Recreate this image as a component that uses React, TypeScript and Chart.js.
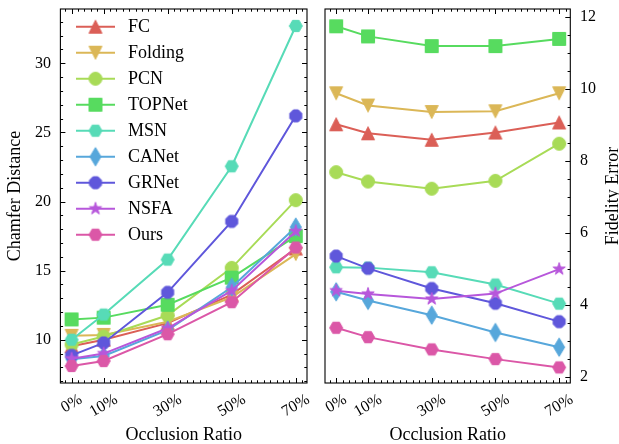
import React, { useEffect, useRef } from "react";
import { Chart, registerables } from "chart.js";

Chart.register(...registerables);

// ---------- data ----------
const occlusion = [0, 10, 30, 50, 70];
const occlusionLabels = ["0%", "10%", "30%", "50%", "70%"];
const methods = ["FC", "Folding", "PCN", "TOPNet", "MSN", "CANet", "GRNet", "NSFA", "Ours"];
const methodColors = ["#db5f57", "#dbb757", "#a8db57", "#57db5f", "#57dbb7", "#57a7db", "#5f57db", "#b757db", "#db57a7"];
const methodMarkers = ["^", "v", "o", "s", "H", "d", "8", "*", "H"];

// Chamfer Distance (left panel)
const cdFC = [9.53, 10.0, 11.2, 13.26, 16.6];
const cdFolding = [10.28, 10.35, 11.3, 13.07, 16.2];
const cdPCN = [9.65, 10.23, 11.77, 15.2, 20.1];
const cdTOPNet = [11.47, 11.6, 12.53, 14.49, 17.5];
const cdMSN = [10.0, 11.82, 15.8, 22.55, 32.7];
const cdCANet = [8.58, 8.82, 10.7, 13.8, 18.15];
const cdGRNet = [8.87, 9.77, 13.43, 18.56, 26.2];
const cdNSFA = [8.63, 9.0, 10.83, 13.55, 17.85];
const cdOurs = [8.1, 8.46, 10.4, 12.72, 16.67];

// Fidelity Error (right panel)
const feFC = [9.01, 8.76, 8.58, 8.78, 9.06];
const feFolding = [9.87, 9.53, 9.35, 9.37, 9.87];
const fePCN = [7.68, 7.42, 7.22, 7.44, 8.47];
const feTOPNet = [11.73, 11.45, 11.18, 11.18, 11.38];
const feMSN = [5.04, 5.03, 4.9, 4.56, 4.03];
const feCANet = [4.36, 4.12, 3.71, 3.23, 2.82];
const feGRNet = [5.35, 5.01, 4.45, 4.04, 3.53];
const feNSFA = [4.39, 4.3, 4.16, 4.31, 4.99];
const feOurs = [3.36, 3.1, 2.76, 2.49, 2.26];

const cdSeries = [cdFC, cdFolding, cdPCN, cdTOPNet, cdMSN, cdCANet, cdGRNet, cdNSFA, cdOurs];
const feSeries = [feFC, feFolding, fePCN, feTOPNet, feMSN, feCANet, feGRNet, feNSFA, feOurs];

const cdTicks = [10, 15, 20, 25, 30];
const feTicks = [2, 4, 6, 8, 10, 12];

// ---------- styling ----------
const FONT = '"Liberation Serif", "Times New Roman", serif';
const MS = 13;

function makeMarker(kind: string, color: string) {
  const size = 26;
  const c = document.createElement("canvas");
  c.width = size;
  c.height = size;
  const ctx = c.getContext("2d")!;
  const cx = size / 2;
  const cy = size / 2;
  const r = MS / 2;
  ctx.beginPath();
  const poly = (n: number, start: number, rad: number) => {
    for (let k = 0; k < n; k++) {
      const a = start + (k * 2 * Math.PI) / n;
      const px = cx + rad * Math.cos(a);
      const py = cy + rad * Math.sin(a);
      if (k === 0) ctx.moveTo(px, py);
      else ctx.lineTo(px, py);
    }
  };
  if (kind === "^") {
    ctx.moveTo(cx, cy - r);
    ctx.lineTo(cx + r, cy + r);
    ctx.lineTo(cx - r, cy + r);
  } else if (kind === "v") {
    ctx.moveTo(cx, cy + r);
    ctx.lineTo(cx + r, cy - r);
    ctx.lineTo(cx - r, cy - r);
  } else if (kind === "o") {
    ctx.arc(cx, cy, r, 0, Math.PI * 2);
  } else if (kind === "s") {
    ctx.rect(cx - r, cy - r, 2 * r, 2 * r);
  } else if (kind === "H") {
    poly(6, 0, r);
  } else if (kind === "8") {
    poly(8, Math.PI / 8, r);
  } else if (kind === "d") {
    const h = r * Math.SQRT2;
    const w = h * 0.6;
    ctx.moveTo(cx, cy - h);
    ctx.lineTo(cx + w, cy);
    ctx.lineTo(cx, cy + h);
    ctx.lineTo(cx - w, cy);
  } else if (kind === "*") {
    const inner = r * 0.381966;
    for (let k = 0; k < 10; k++) {
      const a = -Math.PI / 2 + (k * Math.PI) / 5;
      const rad = k % 2 === 0 ? r : inner;
      const px = cx + rad * Math.cos(a);
      const py = cy + rad * Math.sin(a);
      if (k === 0) ctx.moveTo(px, py);
      else ctx.lineTo(px, py);
    }
  }
  ctx.closePath();
  ctx.fillStyle = color;
  ctx.fill();
  ctx.lineWidth = 1;
  ctx.lineJoin = "round";
  ctx.strokeStyle = color;
  ctx.stroke();
  return c;
}

type PanelCfg = {
  id: string;
  offsetX: number;
  yTicks: number[];
  yMinorStep: number;
  yMin: number;
  yMax: number;
  leftYTicks: boolean;
  rightYTicks: boolean;
  yLabelSide: "left" | "right";
  yLabelX: number;
  yTitle: string;
  yTitleX: number;
  legend: boolean;
};

function decorPlugin(cfg: PanelCfg, markers: HTMLCanvasElement[]) {
  return {
    id: cfg.id,
    afterDraw(chart: any) {
      const ctx: CanvasRenderingContext2D = chart.ctx;
      const { left, right, top, bottom } = chart.chartArea;
      const xs = chart.scales.x;
      const ys = chart.scales.y;
      const ox = cfg.offsetX;
      ctx.save();
      ctx.strokeStyle = "#000";
      ctx.lineWidth = 1;
      const seg = (x1: number, y1: number, x2: number, y2: number) => {
        ctx.beginPath();
        ctx.moveTo(x1, y1);
        ctx.lineTo(x2, y2);
        ctx.stroke();
      };
      const MAJ = 5;
      const MIN = 2.7;
      // x ticks
      for (const v of occlusion) {
        const px = Math.round(xs.getPixelForValue(v)) + 0.5;
        seg(px, bottom, px, bottom - MAJ);
        seg(px, top, px, top + MAJ);
      }
      for (let v = -2; v <= 72; v += 2) {
        if (occlusion.includes(v)) continue;
        const px = Math.round(xs.getPixelForValue(v)) + 0.5;
        if (px < left || px > right) continue;
        seg(px, bottom, px, bottom - MIN);
        seg(px, top, px, top + MIN);
      }
      // y ticks
      const yMajor = (v: number) => cfg.yTicks.some((t) => Math.abs(t - v) < 1e-6);
      const start = Math.ceil(cfg.yMin / cfg.yMinorStep) * cfg.yMinorStep;
      for (let v = start; v <= cfg.yMax + 1e-9; v += cfg.yMinorStep) {
        const py = Math.round(ys.getPixelForValue(v)) + 0.5;
        const len = yMajor(v) ? MAJ : MIN;
        if (cfg.leftYTicks) seg(left, py, left + len, py);
        if (cfg.rightYTicks) seg(right, py, right - len, py);
      }
      // border
      ctx.lineWidth = 1.1;
      ctx.strokeRect(left, top, right - left, bottom - top);

      ctx.fillStyle = "#000";
      // y tick labels
      ctx.font = `16px ${FONT}`;
      ctx.textBaseline = "middle";
      ctx.textAlign = cfg.yLabelSide === "left" ? "right" : "left";
      for (const v of cfg.yTicks) {
        ctx.fillText(String(v), cfg.yLabelX - ox, ys.getPixelForValue(v) + 0.5);
      }
      // x tick labels, rotated 30 deg, centered at tick
      ctx.textAlign = "center";
      occlusionLabels.forEach((lab, i) => {
        const px = xs.getPixelForValue(occlusion[i]);
        const w = ctx.measureText(lab).width;
        const cy = 391 + 0.25 * w + 7.5;
        ctx.save();
        ctx.translate(px, cy);
        ctx.rotate(-Math.PI / 6);
        ctx.fillText(lab, 0, 0);
        ctx.restore();
      });
      // axis titles
      ctx.font = `18px ${FONT}`;
      ctx.textAlign = "center";
      ctx.textBaseline = "alphabetic";
      ctx.fillText("Occlusion Ratio", (left + right) / 2, 440);
      ctx.save();
      ctx.translate(cfg.yTitleX - ox, (top + bottom) / 2);
      ctx.rotate(-Math.PI / 2);
      ctx.textBaseline = "middle";
      ctx.fillText(cfg.yTitle, 0, 0);
      ctx.restore();

      // legend
      if (cfg.legend) {
        ctx.font = `18px ${FONT}`;
        ctx.textAlign = "left";
        ctx.textBaseline = "middle";
        methods.forEach((m, i) => {
          const y = 26.7 + 26 * i;
          ctx.strokeStyle = methodColors[i];
          ctx.lineWidth = 2;
          seg(76 - ox, y, 115 - ox, y);
          const mk = markers[i];
          ctx.drawImage(mk, 95.5 - ox - mk.width / 2, y - mk.height / 2);
          ctx.fillStyle = "#000";
          ctx.fillText(m, 128 - ox, y + 0.5);
        });
      }
      ctx.restore();
    },
  };
}

function buildConfig(series: number[][], yMin: number, yMax: number, padding: any, plugin: any, markers: HTMLCanvasElement[]) {
  const n = series.length;
  return {
    type: "line" as const,
    data: {
      datasets: series.map((vals, i) => ({
        label: methods[i],
        data: vals.map((v, k) => ({ x: occlusion[k], y: v })),
        borderColor: methodColors[i],
        backgroundColor: methodColors[i],
        borderWidth: 2,
        pointStyle: markers[i],
        pointRadius: 7,
        pointHoverRadius: 7,
        tension: 0,
        fill: false,
        order: n - 1 - i,
        clip: 10,
      })),
    },
    options: {
      animation: false,
      responsive: false,
      devicePixelRatio: 1,
      events: [],
      layout: { padding },
      plugins: { legend: { display: false }, tooltip: { enabled: false } },
      scales: {
        x: { type: "linear", min: -3.5, max: 73.5, display: false },
        y: { type: "linear", min: yMin, max: yMax, display: false },
      },
    },
    plugins: [plugin],
  };
}

export default function App() {
  const leftRef = useRef<HTMLCanvasElement>(null);
  const rightRef = useRef<HTMLCanvasElement>(null);

  useEffect(() => {
    const markers = methodMarkers.map((k, i) => makeMarker(k, methodColors[i]));
    const leftPlugin = decorPlugin(
      {
        id: "leftDecor",
        offsetX: 0,
        yTicks: cdTicks,
        yMinorStep: 1,
        yMin: 6.87,
        yMax: 33.93,
        leftYTicks: true,
        rightYTicks: true,
        yLabelSide: "left",
        yLabelX: 51,
        yTitle: "Chamfer Distance",
        yTitleX: 15,
        legend: true,
      },
      markers
    );
    const rightPlugin = decorPlugin(
      {
        id: "rightDecor",
        offsetX: 316,
        yTicks: feTicks,
        yMinorStep: 0.5,
        yMin: 1.827,
        yMax: 12.21,
        leftYTicks: false,
        rightYTicks: true,
        yLabelSide: "right",
        yLabelX: 580,
        yTitle: "Fidelity Error",
        yTitleX: 613.5,
        legend: false,
      },
      markers
    );
    const c1 = new Chart(
      leftRef.current!,
      buildConfig(cdSeries, 6.87, 33.93, { left: 60.4, right: 316 - 309.3, top: 4, bottom: 61 }, leftPlugin, markers) as any
    );
    const c2 = new Chart(
      rightRef.current!,
      buildConfig(feSeries, 1.827, 12.21, { left: 321.7 - 316, right: 619 - 570.3, top: 4, bottom: 61 }, rightPlugin, markers) as any
    );
    return () => {
      c1.destroy();
      c2.destroy();
    };
  }, []);

  return (
    <div style={{ position: "fixed", left: 0, top: 0, width: 619, height: 444, background: "#fff" }}>
      <canvas ref={leftRef} width={316} height={444} style={{ position: "absolute", left: 0, top: 0, width: 316, height: 444 }} />
      <canvas ref={rightRef} width={303} height={444} style={{ position: "absolute", left: 316, top: 0, width: 303, height: 444 }} />
    </div>
  );
}
